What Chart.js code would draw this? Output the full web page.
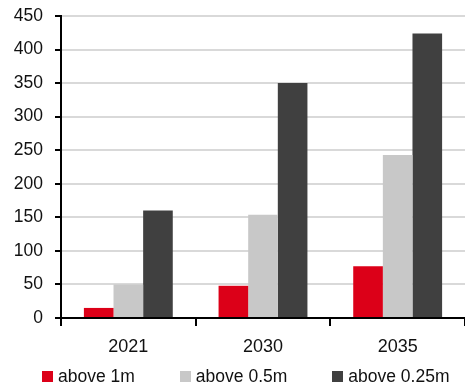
<!DOCTYPE html>
<html>
<head>
<meta charset="utf-8">
<script src="https://cdn.jsdelivr.net/npm/chart.js@4/dist/chart.umd.min.js"></script>
<style>
  html, body { margin: 0; padding: 0; background: #fff; }
  #wrap { position: relative; width: 465px; height: 390px; }
  #legend {
    position: absolute; left: 42px; top: 366px;
    display: flex; align-items: center;
    font-family: "Liberation Sans", Arial, sans-serif;
    font-size: 17.5px; color: #111; white-space: nowrap;
  }
  .item { display: flex; align-items: center; margin-right: 45px; }
  .box { width: 11px; height: 11px; margin-right: 5px; }
</style>
</head>
<body>
<div id="wrap">
  <canvas id="c" width="465" height="390"></canvas>
  <div id="legend"></div>
</div>
<script>
const years = ['2021', '2030', '2035'];
const seriesNames = ['above 1m', 'above 0.5m', 'above 0.25m'];
const above1m = [15, 48, 77];
const above05m = [50, 154, 243];
const above025m = [160, 350, 424];
const seriesColors = ['#dc0018', '#c8c8c8', '#404040'];
const yTicks = [0, 50, 100, 150, 200, 250, 300, 350, 400, 450];

const FONT = '"Liberation Sans", Arial, sans-serif';
const values = [above1m, above05m, above025m];

new Chart(document.getElementById('c'), {
  type: 'bar',
  data: {
    labels: years,
    datasets: values.map((v, i) => ({
      label: seriesNames[i],
      data: v,
      backgroundColor: seriesColors[i],
      borderWidth: 0,
      categoryPercentage: 0.66,
      barPercentage: 1.0
    }))
  },
  options: {
    responsive: false,
    animation: false,
    layout: { padding: { top: 16, right: 0, bottom: 0, left: 0 } },
    plugins: { legend: { display: false }, tooltip: { enabled: false } },
    scales: {
      x: {
        grid: {
          display: true, drawOnChartArea: false, drawTicks: true,
          tickLength: 8, color: '#000', lineWidth: 2, offset: true
        },
        border: { display: true, color: '#000', width: 2 },
        ticks: { color: '#111', font: { family: FONT, size: 18 }, padding: 10 },
        afterFit: s => { s.height = 72; }
      },
      y: {
        min: 0, max: 450,
        afterBuildTicks: s => { s.ticks = yTicks.map(v => ({ value: v })); },
        grid: {
          color: c => (c.tick && c.tick.value === 0) ? '#000' : '#d9d9d9',
          lineWidth: 2, tickLength: 6, tickColor: '#000'
        },
        border: { display: true, color: '#000', width: 2 },
        ticks: { color: '#111', font: { family: FONT, size: 17.5 }, padding: 12 },
        afterFit: s => { s.width = 61; s.paddingTop = 0; s.paddingBottom = 0; }
      }
    }
  }
});

// legend built from the same series names and colours
const legend = document.getElementById('legend');
seriesNames.forEach((name, i) => {
  const item = document.createElement('div');
  item.className = 'item';
  const box = document.createElement('div');
  box.className = 'box';
  box.style.background = seriesColors[i];
  const txt = document.createElement('span');
  txt.textContent = name;
  item.appendChild(box);
  item.appendChild(txt);
  legend.appendChild(item);
});
</script>
</body>
</html>
